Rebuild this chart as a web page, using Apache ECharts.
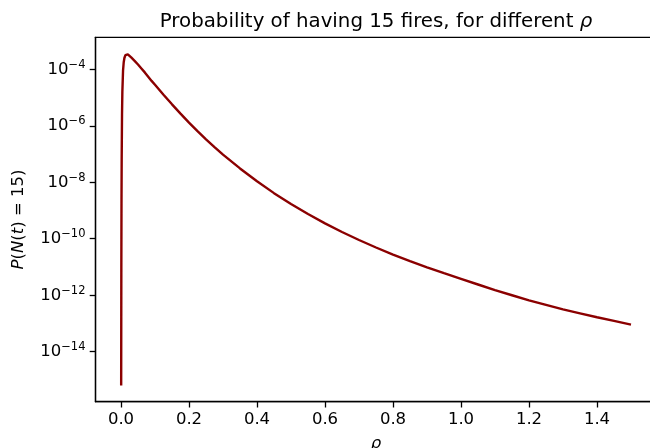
<!DOCTYPE html>
<html>
<head>
<meta charset="utf-8">
<script src="https://cdn.jsdelivr.net/npm/echarts@6/dist/echarts.min.js"></script>
<style>
html,body{margin:0;padding:0;background:#fff;overflow:hidden;}
#chart{width:650px;height:448px;}
</style>
</head>
<body>
<div id="chart"></div>
<script>
// rho values (x) and log10 of P(N(t)=15)
var rho = [0.0005, 0.001, 0.0015, 0.002, 0.003, 0.004, 0.006, 0.008, 0.01, 0.013, 0.016, 0.02, 0.025, 0.03, 0.04, 0.05, 0.06, 0.07, 0.08, 0.09, 0.1, 0.125, 0.15, 0.175, 0.2, 0.225, 0.25, 0.275, 0.3, 0.35, 0.4, 0.45, 0.5, 0.55, 0.6, 0.65, 0.7, 0.75, 0.8, 0.85, 0.9, 0.95, 1.0, 1.05, 1.1, 1.15, 1.2, 1.25, 1.3, 1.35, 1.4, 1.45, 1.5];
var log10P = [-15.2, -11.0, -8.6, -7.2, -5.6, -4.8, -4.05, -3.75, -3.6, -3.5, -3.46, -3.47, -3.52, -3.58, -3.70, -3.83, -3.97, -4.11, -4.26, -4.41, -4.55, -4.90, -5.24, -5.57, -5.89, -6.19, -6.48, -6.755, -7.02, -7.51, -7.965, -8.385, -8.77, -9.125, -9.455, -9.76, -10.045, -10.31, -10.56, -10.79, -11.01, -11.22, -11.42, -11.62, -11.82, -12.00, -12.18, -12.34, -12.50, -12.64, -12.78, -12.91, -13.04];
var xTicks = [0.0, 0.2, 0.4, 0.6, 0.8, 1.0, 1.2, 1.4];
var yTickExponents = [-14, -12, -10, -8, -6, -4];

var data = rho.map(function (r, i) { return [r, log10P[i]]; });
var font = 'DejaVu Sans';
var fs = 16.5;

var chart = echarts.init(document.getElementById('chart'), null, {renderer: 'canvas'});
chart.setOption({
  animation: false,
  backgroundColor: '#ffffff',
  title: {
    text: 'Probability of having 15 fires, for different {i|ρ}',
    left: 371, top: 7, textAlign: 'center',
    textStyle: {
      fontFamily: font, fontSize: 19.8, fontWeight: 'normal', color: '#000',
      rich: { i: { fontFamily: font, fontStyle: 'italic', fontSize: 19.8, color: '#000' } }
    }
  },
  grid: { left: 95.5, top: 37.3, width: 561, height: 364.4, outerBoundsMode: 'none', containLabel: false,
    show: true, borderColor: '#000', borderWidth: 1.3, backgroundColor: 'transparent' },
  xAxis: {
    type: 'value', min: -0.075, max: 1.575,
    name: '{i|ρ}', nameLocation: 'middle', nameGap: 34,
    nameTextStyle: { rich: { i: { fontFamily: font, fontStyle: 'italic', fontSize: fs, color: '#000' } } },
    axisLine: { show: true, onZero: false, lineStyle: { color: '#000', width: 1.3 } },
    axisTick: { show: true, length: 5.8, lineStyle: { color: '#000', width: 1.3 }, customValues: xTicks },
    axisLabel: { fontFamily: font, fontSize: fs, color: '#000', margin: 10, customValues: xTicks,
      formatter: function (v) { return v.toFixed(1); } },
    splitLine: { show: false }
  },
  yAxis: {
    type: 'value', min: -15.77, max: -2.867,
    name: '{i|P}({i|N}({i|t}) = 15)', nameLocation: 'middle', nameGap: 68, nameRotate: 90,
    nameTextStyle: { fontFamily: font, fontSize: fs, color: '#000',
      rich: { i: { fontFamily: font, fontStyle: 'italic', fontSize: fs, color: '#000' } } },
    axisLine: { show: true, onZero: false, lineStyle: { color: '#000', width: 1.3 } },
    axisTick: { show: true, length: 5.8, lineStyle: { color: '#000', width: 1.3 }, customValues: yTickExponents },
    axisLabel: { fontFamily: font, fontSize: fs, color: '#000', margin: 10, customValues: yTickExponents,
      formatter: function (v) { return '{b|10}{s|\u2212' + Math.abs(Math.round(v)) + '}'; },
      rich: {
        b: { fontFamily: font, fontSize: fs, color: '#000' },
        s: { fontFamily: font, fontSize: 11.5, color: '#000', padding: [0, 0, 9, 0] }
      }
    },
    splitLine: { show: false }
  },
  series: [{
    type: 'line', data: data, showSymbol: false, smooth: false,
    lineStyle: { color: '#8b0000', width: 2.4 },
    clip: true
  }]
});
</script>
</body>
</html>
